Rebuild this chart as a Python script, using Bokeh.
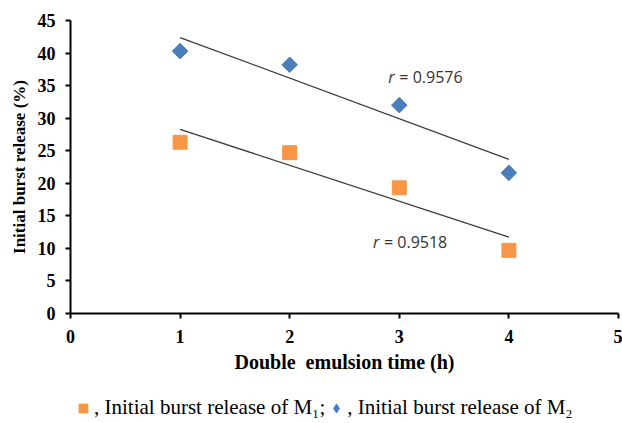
import numpy as np
from bokeh.plotting import figure
from bokeh.layouts import column
from bokeh.models import Range1d, FixedTicker, Legend, LegendItem
from bokeh.core.properties import value
from bokeh.embed import file_html
from bokeh.resources import INLINE

# Double emulsion time (h) and initial burst release (%)
time_h = [1, 2, 3, 4]
release_m1 = [26.3, 24.7, 19.3, 9.7]
release_m2 = [40.3, 38.2, 32.0, 21.6]

# correlation labels: text and anchor (data coords)
r_texts = ["= 0.9518", "= 0.9576"]
r_x = [2.76, 2.90]
r_y = [11.0, 36.3]

x_ticks = [0, 1, 2, 3, 4, 5]
y_ticks = [0, 5, 10, 15, 20, 25, 30, 35, 40, 45]

legend_labels = [", Initial burst release of M\u2081;",
                 ", Initial burst release of M\u2082"]

ORANGE = "#F79646"
BLUE = "#4A7EBB"
SERIF = "Liberation Serif"

p = figure(width=622, height=393, output_backend="svg", toolbar_location=None,
           x_range=Range1d(0, 5), y_range=Range1d(0, 45),
           min_border_left=70, min_border_right=4, min_border_top=20,
           min_border_bottom=80)
p.outline_line_color = None
p.xgrid.visible = False
p.ygrid.visible = False

for ax in (p.xaxis[0], p.yaxis[0]):
    ax.axis_line_width = 2
    ax.axis_line_color = "black"
    ax.major_tick_line_width = 2
    ax.major_tick_in = 0
    ax.major_tick_out = 5
    ax.minor_tick_line_color = None
    ax.major_label_text_font = SERIF
    ax.major_label_text_font_style = "bold"
    ax.major_label_text_font_size = "18px"
    ax.major_label_text_color = "black"
    ax.axis_label_text_font = SERIF
    ax.axis_label_text_font_style = "bold"
    ax.axis_label_text_color = "black"

p.xaxis.ticker = FixedTicker(ticks=x_ticks)
p.yaxis.ticker = FixedTicker(ticks=y_ticks)
p.xaxis.axis_label = "Double\u00a0 emulsion time (h)"
p.yaxis.axis_label = "Initial burst release (%)"
p.xaxis.axis_label_text_font_size = "20px"
p.yaxis.axis_label_text_font_size = "17px"
p.xaxis.major_label_standoff = 11
p.xaxis.axis_label_standoff = 5
p.yaxis.major_label_standoff = 10
p.yaxis.axis_label_standoff = 6

# linear trend lines over the measured range
for ys in (release_m1, release_m2):
    k, b = np.polyfit(time_h, ys, 1)
    xs = [time_h[0], time_h[-1]]
    p.line(xs, [k * x + b for x in xs], line_color="#3a3a3a", line_width=1.2)

p.scatter(time_h, release_m1, marker="square", size=14,
          fill_color=ORANGE, line_color=ORANGE)
p.scatter(time_h, release_m2, marker="square", size=11, angle=np.pi / 4,
          fill_color=BLUE, line_color=BLUE)

# correlation coefficients: italic r followed by its value
p.text(r_x, r_y, text=["r", "r"], text_font=value("Open Sans"),
       text_font_style="italic", text_font_size="16px", text_color="#333333",
       text_baseline="middle")
p.text(r_x, r_y, text=r_texts, x_offset=11, text_font=value("Open Sans"),
       text_font_size="16px", text_color="#333333", text_baseline="middle")

# key strip below the chart; its series sit outside the strip's unit view,
# so only the key swatches are shown
k = figure(width=622, height=30, output_backend="svg", toolbar_location=None,
           x_range=Range1d(0, 1), y_range=Range1d(0, 1),
           x_axis_location=None, y_axis_location=None, min_border=0)
k.outline_line_color = None
k.xgrid.visible = False
k.ygrid.visible = False
k_sq = k.scatter(time_h, release_m1, marker="square",
                 fill_color=ORANGE, line_color=ORANGE)
k_dm = k.scatter(time_h, release_m2, marker="diamond",
                 fill_color=BLUE, line_color=BLUE)

legend = Legend(items=[
    LegendItem(label=legend_labels[0], renderers=[k_sq]),
    LegendItem(label=legend_labels[1], renderers=[k_dm]),
], orientation="horizontal", location=(2, 3))
legend.label_text_font = SERIF
legend.label_text_font_size = "21px"
legend.label_text_color = "black"
legend.glyph_width = 22
legend.glyph_height = 24
legend.label_standoff = 0
legend.spacing = 0
legend.padding = 0
legend.margin = 0
legend.border_line_color = None
legend.background_fill_alpha = 0
k.add_layout(legend, "center")

open("out.html", "w").write(file_html(column(p, k, spacing=0), INLINE))
